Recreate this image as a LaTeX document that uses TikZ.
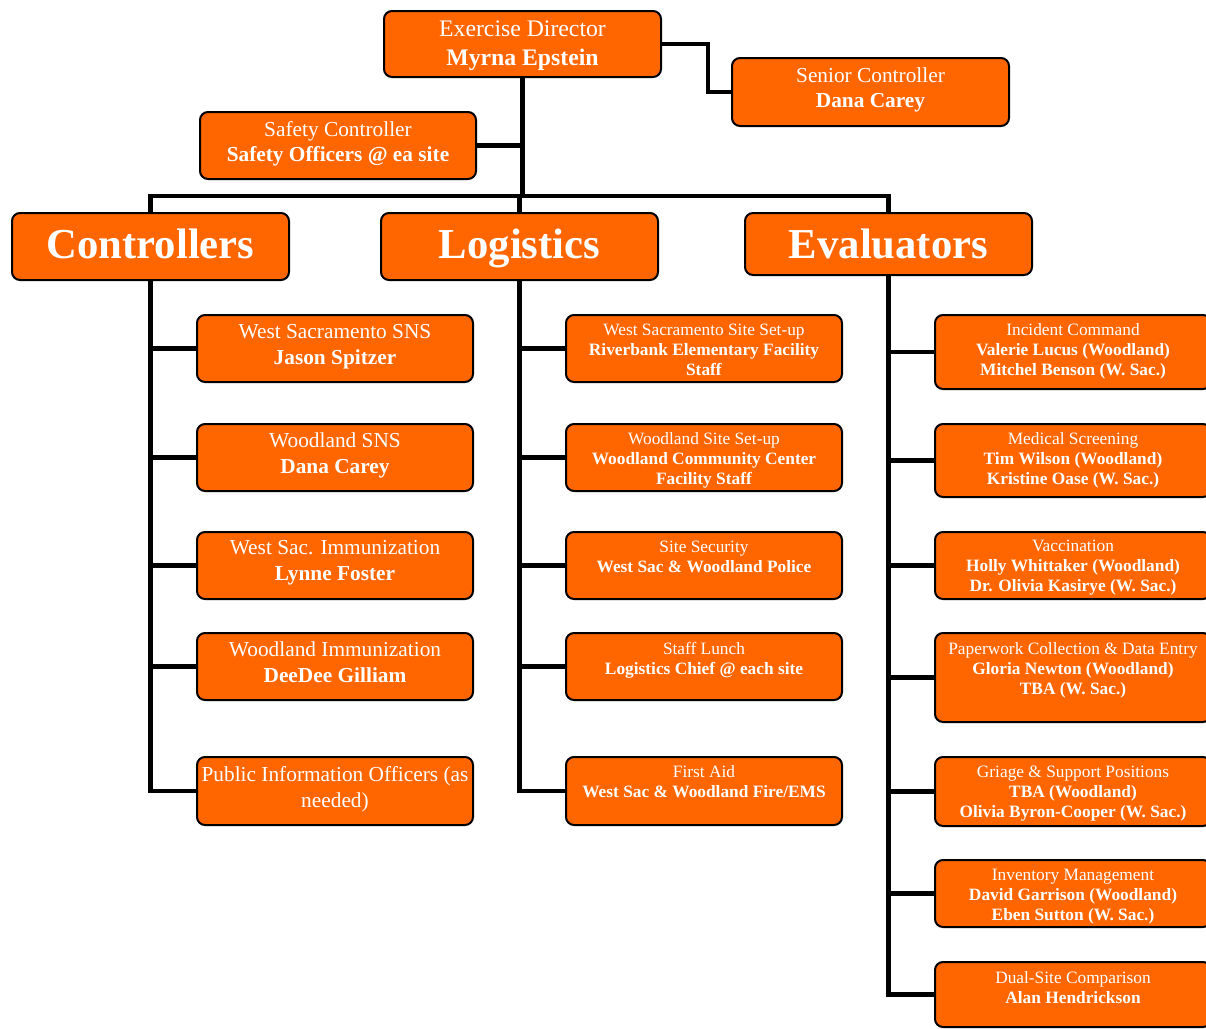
\documentclass[tikz,border=0pt]{standalone}
\usepackage{fontspec}
\setmainfont{Liberation Serif}
\usetikzlibrary{backgrounds}
\definecolor{org}{HTML}{FF6600}
\tikzset{
 obox/.style={draw=black, line width=1.5pt, fill=org, rounded corners=6pt, inner sep=0pt, outer sep=0pt},
 otxt/.style={text=white, align=center, inner sep=0pt},
 bigt/.style={otxt, font=\fontsize{17.8}{21.75}\selectfont},
 midt/.style={otxt, font=\fontsize{16}{19}\selectfont},
 kidt/.style={otxt, font=\fontsize{16}{19.5}\selectfont},
 smlt/.style={otxt, font=\fontsize{13}{15}\selectfont},
 hdrt/.style={otxt, anchor=base, font=\fontsize{32}{36}\selectfont\bfseries},
 conn/.style={line width=3.6pt, line join=miter},
}
\newcommand\obx[8]{%
 \node[obox, minimum width={(#4-#2)*0.75pt}, minimum height={(#5-#3)*0.75pt}] (#1) at ({(#2+#4)/2},{(#3+#5)/2}) {};
 \node[#6] (#1t) at ({(#2+#4)/2},#7) {#8};}
\begin{document}
\begin{tikzpicture}[x=0.75pt,y=-0.75pt]
\useasboundingbox (0,0) rectangle (1206,1028);
\clip (0,0) rectangle (1206,1028);
% top
\obx{dir}{384}{11}{661}{77}{bigt}{45.5}{Exercise Director\\\textbf{Myrna Epstein}}
\obx{sen}{732}{58}{1009}{126}{midt}{90}{Senior Controller\\\textbf{Dana Carey}}
\obx{saf}{200}{112}{476}{179}{midt}{143.5}{Safety Controller\\\textbf{Safety Officers @ ea site}}
% headers
\obx{ctl}{12}{213}{289}{280}{hdrt}{258}{Controllers}
\obx{log}{381}{213}{658}{280}{hdrt}{258}{Logistics}
\obx{evl}{745}{213}{1032}{275}{hdrt}{258}{Evaluators}
% controllers
\obx{c1}{197}{315}{473}{382}{kidt}{347}{West Sacramento SNS\\\textbf{Jason Spitzer}}
\obx{c2}{197}{424}{473}{491}{kidt}{455}{Woodland SNS\\\textbf{Dana Carey}}
\obx{c3}{197}{532}{473}{599}{kidt}{563}{West Sac. Immunization\\\textbf{Lynne Foster}}
\obx{c4}{197}{633}{473}{700}{kidt}{662.5}{Woodland Immunization\\\textbf{DeeDee Gilliam}}
\obx{c5}{197}{757}{473}{825}{kidt}{789}{Public Information Officers (as\\needed)}
% logistics
\obx{l1}{566}{315}{842}{382}{smlt}{350}{West Sacramento Site Set-up\\\textbf{Riverbank Elementary Facility}\\\textbf{Staff}}
\obx{l2}{566}{424}{842}{491}{smlt}{460}{Woodland Site Set-up\\\textbf{Woodland Community Center}\\\textbf{Facility Staff}}
\obx{l3}{566}{532}{842}{599}{smlt}{556.5}{Site Security\\\textbf{West Sac \& Woodland Police}}
\obx{l4}{566}{633}{842}{700}{smlt}{660}{Staff Lunch\\\textbf{Logistics Chief @ each site}}
\obx{l5}{566}{757}{842}{825}{smlt}{782}{First Aid\\\textbf{West Sac \& Woodland Fire/EMS}}
% evaluators
\obx{e1}{935}{315}{1211}{389}{smlt}{351}{Incident Command\\\textbf{Valerie Lucus (Woodland)}\\\textbf{Mitchel Benson (W. Sac.)}}
\obx{e2}{935}{424}{1211}{497}{smlt}{460.5}{Medical Screening\\\textbf{Tim Wilson (Woodland)}\\\textbf{Kristine Oase (W. Sac.)}}
\obx{e3}{935}{532}{1211}{599}{smlt}{568}{Vaccination\\\textbf{Holly Whittaker (Woodland)}\\\textbf{Dr. Olivia Kasirye (W. Sac.)}}
\obx{e4}{935}{633}{1211}{722}{smlt}{670}{Paperwork Collection \& Data Entry\\\textbf{Gloria Newton (Woodland)}\\\textbf{TBA (W. Sac.)}}
\obx{e5}{935}{757}{1211}{826}{smlt}{794}{Griage \& Support Positions\\\textbf{TBA (Woodland)}\\\textbf{Olivia Byron-Cooper (W. Sac.)}}
\obx{e6}{935}{860}{1211}{927}{smlt}{897}{Inventory Management\\\textbf{David Garrison (Woodland)}\\\textbf{Eben Sutton (W. Sac.)}}
\obx{e7}{935}{962}{1211}{1027}{smlt}{988}{Dual-Site Comparison\\\textbf{Alan Hendrickson}}
\begin{scope}[on background layer]
 \coordinate (bar) at (0,196);
 \draw[conn] (dir.south) -- (dir.south |- bar);
 \draw[conn] (ctl.north) |- (bar -| evl.north) -- (evl.north);
 \draw[conn] (log.north) -- (log.north |- bar);
 \draw[conn] (saf.east) -- (saf.east -| dir.south);
 \draw[conn] (dir.east) -- ++(47,0) |- (sen.west);
 \foreach \k in {c1,c2,c3,c4,c5} \draw[conn] (ctl.south) |- (\k.west);
 \foreach \k in {l1,l2,l3,l4,l5} \draw[conn] (log.south) |- (\k.west);
 \foreach \k in {e1,e2,e3,e4,e5,e6,e7} \draw[conn] (evl.south) |- (\k.west);
\end{scope}
\end{tikzpicture}
\end{document}
